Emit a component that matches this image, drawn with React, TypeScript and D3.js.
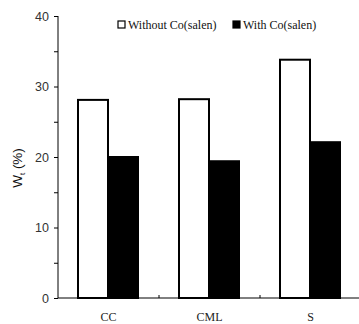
import React, { useEffect, useRef } from 'react';
import * as d3 from 'd3';

const categories = ['CC', 'CML', 'S'];
const seriesNames = ['Without Co(salen)', 'With Co(salen)'];
const withoutCo = [28.1, 28.2, 33.8];
const withCo = [20.0, 19.4, 22.1];
const yTicks = [0, 10, 20, 30, 40];

const App = () => {
  const svgRef = useRef<SVGSVGElement>(null);

  useEffect(() => {
    const svg = d3.select(svgRef.current);
    svg.selectAll('*').remove();

    const left = 58;
    const right = 361;
    const top = 16;
    const bottom = 298;

    const x = d3.scaleBand().domain(categories).range([left, right]).padding(0);
    const y = d3.scaleLinear().domain([0, 40]).range([bottom, top]);
    const inner = d3.scaleBand().domain(seriesNames).range([20, 80]).padding(0);
    const fills = ['#fff', '#000'];

    const rows = categories.map((c, i) => ({ c, vals: [withoutCo[i], withCo[i]] }));

    // Bars
    const g = svg.append('g');
    rows.forEach(r => {
      r.vals.forEach((v, j) => {
        g.append('rect')
          .attr('x', (x(r.c) as number) + (inner(seriesNames[j]) as number))
          .attr('y', y(v))
          .attr('width', inner.bandwidth())
          .attr('height', bottom - y(v))
          .attr('fill', fills[j])
          .attr('stroke', '#000')
          .attr('stroke-width', 2);
      });
    });

    // Y axis
    const yAxis = svg.append('g')
      .attr('transform', `translate(${left},0)`)
      .call(d3.axisLeft(y).tickValues(d3.range(0, 41, 5)).tickSize(4).tickFormat(d => (yTicks.includes(+d) ? String(d) : '')));
    yAxis.select('.domain').attr('stroke', '#000').attr('d', `M0,${top}V${bottom}`);
    yAxis.selectAll('text')
      .attr('font-family', "'Liberation Sans Narrow', 'Liberation Sans', Arial, sans-serif")
      .attr('font-size', 12.5)
      .attr('fill', '#333')
      .attr('dx', -2);

    // X axis
    svg.append('line')
      .attr('x1', left).attr('x2', right)
      .attr('y1', bottom).attr('y2', bottom)
      .attr('stroke', '#000');
    categories.slice(1).forEach(c => {
      svg.append('line')
        .attr('x1', x(c) as number).attr('x2', x(c) as number)
        .attr('y1', bottom).attr('y2', bottom - 3)
        .attr('stroke', '#000');
    });
    svg.selectAll('text.cat')
      .data(categories)
      .join('text')
      .attr('class', 'cat')
      .attr('x', d => (x(d) as number) + x.bandwidth() / 2)
      .attr('y', 321)
      .attr('text-anchor', 'middle')
      .attr('font-family', "'Liberation Serif', 'Times New Roman', serif")
      .attr('font-size', 12)
      .attr('fill', '#222')
      .text(d => d);

    // Y label
    const yl = svg.append('text')
      .attr('transform', `translate(22,168) rotate(-90)`)
      .attr('text-anchor', 'middle')
      .attr('font-family', "'Liberation Sans', Arial, sans-serif")
      .attr('font-size', 13.5)
      .attr('fill', '#111');
    yl.append('tspan').text('W');
    yl.append('tspan').attr('font-size', 8).attr('dy', 3).text('t');
    yl.append('tspan').attr('dy', -3).text(' (%)');

    // Legend
    const lg = svg.append('g').attr('font-family', "'Liberation Serif', 'Times New Roman', serif").attr('font-size', 12);
    const lx = [118, 233];
    seriesNames.forEach((s, j) => {
      lg.append('rect')
        .attr('x', lx[j]).attr('y', 21)
        .attr('width', 7).attr('height', 7)
        .attr('fill', fills[j])
        .attr('stroke', '#000')
        .attr('stroke-width', 1.2);
      lg.append('text')
        .attr('x', lx[j] + 10).attr('y', 29)
        .attr('fill', '#111')
        .text(s);
    });
  }, []);

  return <svg ref={svgRef} width={359} height={324} style={{ position: 'absolute', left: 0, top: 0 }} />;
};

export default App;
